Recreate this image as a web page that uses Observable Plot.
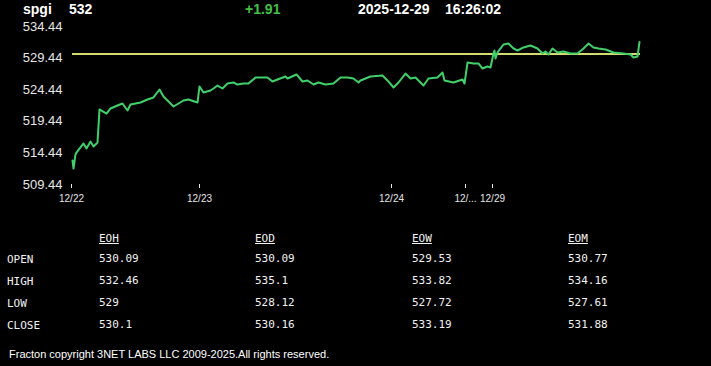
<!DOCTYPE html>
<html>
<head>
<meta charset="utf-8">
<script src="https://cdn.jsdelivr.net/npm/d3@7"></script>
<script src="https://cdn.jsdelivr.net/npm/@observablehq/plot@0.6"></script>
<style>
  html, body { margin: 0; padding: 0; background: #000; }
  body { width: 711px; height: 366px; position: relative; overflow: hidden; font-family: "Liberation Sans", Arial, sans-serif; color: #fff; }
  #chart { position: absolute; left: 0; top: 0; }
  .hdr { position: absolute; top: 2px; font-size: 14px; line-height: 14px; font-weight: bold; white-space: nowrap; }
  .tbl { position: absolute; font-family: "DejaVu Sans Mono", monospace; font-size: 11px; line-height: 11px; color: #f2f2f2; white-space: nowrap; }
  .u { text-decoration: underline; }
  #foot { position: absolute; left: 9px; top: 349px; font-size: 11px; line-height: 11px; color: #fff; white-space: nowrap; }
</style>
</head>
<body>
<div id="chart"></div>
<div id="header"></div>
<div id="table"></div>
<div id="foot"></div>
<script>
// ---- data ----
const symbol = "spgi";
const lastPrice = "532";
const change = "+1.91";
const dateStr = "2025-12-29";
const timeStr = "16:26:02";
const refLine = 530.09;

// sample index along the trading timeline and price
const t = [1,2,4,5,12,15,19,22,26,28,35,39,46,51,56,59,69,76,82,88,92,102,112,117,126,128,132,139,142,146,151,156,162,166,172,177,184,196,201,206,214,216,225,231,236,242,247,254,262,269,276,282,287,289,299,311,316,322,327,334,339,344,347,352,357,366,371,373,382,391,393,396,402,407,411,416,419,422,423,424,426,432,437,442,446,452,459,466,471,474,477,481,486,492,499,506,512,517,522,527,534,542,552,559,562,566,568];
const price = [513.24,511.97,514.2,514.50,515.93,515.14,516.24,515.45,516.09,521.31,520.67,521.47,521.94,522.26,521.15,522.10,522.41,522.89,523.21,524.47,523.36,521.78,522.73,522.89,522.41,524.95,524.00,524.31,524.63,525.10,524.63,525.42,525.58,525.26,525.42,525.42,526.37,526.37,525.74,526.05,526.53,526.21,526.85,525.74,525.90,525.26,525.58,525.26,525.42,526.37,526.37,526.21,525.58,525.90,526.53,526.69,525.90,524.79,525.58,527.00,526.21,526.37,525.90,525.10,526.21,526.37,527.16,525.90,525.58,526.05,525.42,528.74,528.59,528.59,527.79,528.11,527.95,530.17,530.64,529.38,530.33,531.59,531.75,530.96,530.64,531.12,531.43,530.96,530.17,530.48,530.01,530.96,530.33,530.48,530.17,530.17,530.96,531.75,531.12,530.96,530.80,530.33,530.17,530.01,529.53,529.69,532.00];

const yTicks = [509.44, 514.44, 519.44, 524.44, 529.44, 534.44];
const xTickPos = [0, 128, 320, 394, 421];
const xTickLabels = ["12/22", "12/23", "12/24", "12/...", "12/29"];
const xEnd = 569;

const colNames = ["EOH", "EOD", "EOW", "EOM"];
const rowNames = ["OPEN", "HIGH", "LOW", "CLOSE"];
const eoh = ["530.09", "532.46", "529", "530.1"];
const eod = ["530.09", "535.1", "528.12", "530.16"];
const eow = ["529.53", "533.82", "527.72", "533.19"];
const eom = ["530.77", "534.16", "527.61", "531.88"];
const footer = "Fracton copyright 3NET LABS LLC 2009-2025.All rights reserved.";

// ---- chart ----
const series = t.map((d, i) => ({t: d, v: price[i]}));
const chart = Plot.plot({
  width: 711,
  height: 210,
  marginTop: 26,
  marginBottom: 26,
  marginLeft: 71,
  marginRight: 71,
  style: {background: "#000", color: "#e6e6e6", fontFamily: "'Liberation Sans', Arial, sans-serif"},
  x: {domain: [0, xEnd]},
  y: {domain: [yTicks[0], yTicks[yTicks.length - 1]]},
  marks: [
    Plot.axisY(yTicks, {tickSize: 0, tickPadding: 9, fontSize: 13, tickFormat: d => d.toFixed(2), label: null}),
    Plot.axisX(xTickPos, {tickSize: 4, tickPadding: 6, fontSize: 10, tickFormat: d => xTickLabels[xTickPos.indexOf(d)], label: null}),
    Plot.ruleY([refLine], {x1: t[0], x2: xEnd, stroke: "#d2da70", strokeWidth: 2}),
    Plot.line(series, {x: "t", y: "v", stroke: "#40d06a", strokeWidth: 2})
  ]
});
document.getElementById("chart").append(chart);

// ---- header ----
const header = document.getElementById("header");
[[symbol, 23, "#fff"], [lastPrice, 69, "#fff"], [change, 245, "#45c045"], [dateStr, 358, "#fff"], [timeStr, 445, "#fff"]]
  .forEach(([txt, x, c]) => {
    const s = document.createElement("div");
    s.className = "hdr"; s.textContent = txt; s.style.left = x + "px"; s.style.color = c;
    header.append(s);
  });

// ---- table ----
const table = document.getElementById("table");
const colX = [99, 255, 412, 568];
const rowY = [253, 275, 297, 319];
const cols = [eoh, eod, eow, eom];
function cell(txt, x, y, cls) {
  const d = document.createElement("div");
  d.className = "tbl" + (cls ? " " + cls : "");
  d.textContent = txt; d.style.left = x + "px"; d.style.top = y + "px";
  table.append(d);
}
colNames.forEach((n, j) => cell(n, colX[j], 233, "u"));
rowNames.forEach((n, i) => cell(n, 7, rowY[i] + 1));
cols.forEach((col, j) => col.forEach((v, i) => cell(v, colX[j], rowY[i])));
document.getElementById("foot").textContent = footer;
</script>
</body>
</html>
